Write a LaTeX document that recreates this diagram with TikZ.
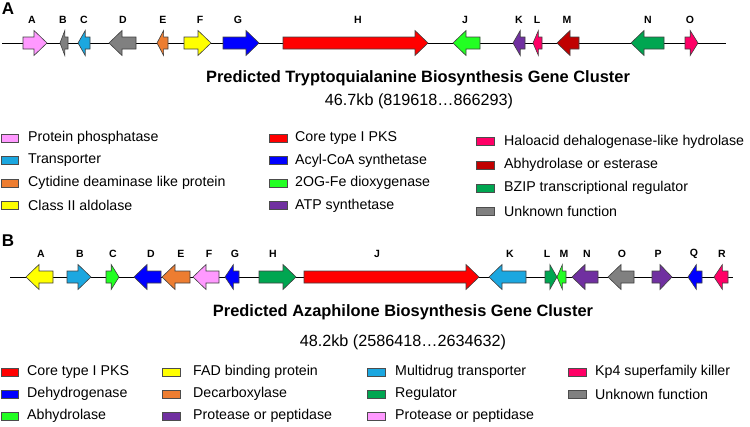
\documentclass[tikz,border=0pt]{standalone}
\usepackage{fontspec}
\setmainfont{Liberation Sans}
\definecolor{phos}{HTML}{FF99FF}
\definecolor{transp}{HTML}{1BA7E0}
\definecolor{deam}{HTML}{ED7D31}
\definecolor{aldo}{HTML}{FFFF00}
\definecolor{pks}{HTML}{FF0000}
\definecolor{acyl}{HTML}{0000FF}
\definecolor{diox}{HTML}{22FF22}
\definecolor{atps}{HTML}{7030A0}
\definecolor{halo}{HTML}{FF0066}
\definecolor{esta}{HTML}{C00000}
\definecolor{bzip}{HTML}{00A651}
\definecolor{unkn}{HTML}{808080}
\tikzset{
    genebox/.style={draw=black!75, line width=0.6pt, line join=miter},
    genelabel/.style={font=\fontsize{10.5}{10.5}\selectfont\bfseries},
    swatch/.style={draw=black!70, line width=0.6pt},
    legtext/.style={anchor=west, inner sep=0pt, font=\fontsize{14.2}{14.2}\selectfont},
    panel/.style={font=\fontsize{17}{17}\selectfont\bfseries},
    title/.style={font=\fontsize{16.4}{16.4}\selectfont\bfseries},
    subtitle/.style={font=\fontsize{16.2}{16.2}\selectfont}
}
\newcommand{\genearrow}[5]{%
    \pgfmathsetmacro{\hl}{min(13,0.6*(#2-#1))}%
    \pgfmathsetmacro{\tl}{#4>0 ? #1 : #2}%
    \pgfmathsetmacro{\tp}{#4>0 ? #2 : #1}%
    \pgfmathsetmacro{\hb}{#4>0 ? #2-\hl : #1+\hl}%
    \draw[genebox, fill=#5] (\tl,#3-6) -- (\hb,#3-6) -- (\hb,#3-12.5) -- (\tp,#3)
        -- (\hb,#3+12.5) -- (\hb,#3+6) -- (\tl,#3+6) -- cycle;
}

\begin{document}
\begin{tikzpicture}[x=1pt, y=-1pt]
        \useasboundingbox (0,0) rectangle (750,426);

        \node[panel] (panelA) at (8,9) {A};
        \draw[line width=0.9pt] (2,43) -- (726,43);
        \foreach \xa/\xb/\d/\c/\t/\lx in {23/47/1/phos/A/32, 60/68/-1/unkn/B/63, 78/90/-1/transp/C/84,
            109/136/-1/unkn/D/123, 157/168/-1/deam/E/163, 184/211/1/aldo/F/200, 223/259/1/acyl/G/238,
            283/428/1/pks/H/358, 453/480/-1/diox/J/465, 513/525/-1/atps/K/519, 533/542/-1/halo/L/537,
            557/579/-1/esta/M/567, 631/664/-1/bzip/N/648, 685/698/1/halo/O/690} {
            \genearrow{\xa}{\xb}{43}{\d}{\c}
            \node[genelabel] (geneA-\t) at (\lx,20) {\t};
        }
        \node[title] (titleA) at (418,78) {Predicted Tryptoquialanine Biosynthesis Gene Cluster};
        \node[subtitle] (sizeA) at (419,101) {46.7kb (819618…866293)};

        \foreach \c/\t [count=\i] in {phos/Protein phosphatase, transp/Transporter,
            deam/Cytidine deaminase like protein, aldo/Class II aldolase} {
            \draw[swatch, fill=\c] (1,138+22.5*\i-22.5-4) rectangle (18,138+22.5*\i-22.5+4);
            \node[legtext] (legA1-\i) at (28,138+22.5*\i-22.5) {\t};
        }
        \foreach \c/\t [count=\i] in {pks/Core type I PKS, acyl/Acyl-CoA synthetase,
            diox/2OG-Fe dioxygenase, atps/ATP synthetase} {
            \draw[swatch, fill=\c] (269,138+22.5*\i-22.5-4) rectangle (287,138+22.5*\i-22.5+4);
            \node[legtext] (legA2-\i) at (295,138+22.5*\i-22.5) {\t};
        }
        \foreach \c/\t [count=\i] in {halo/Haloacid dehalogenase-like hydrolase, esta/Abhydrolase or esterase,
            bzip/BZIP transcriptional regulator, unkn/Unknown function} {
            \draw[swatch, fill=\c] (476,141.5+23.3*\i-23.3-4) rectangle (494,141.5+23.3*\i-23.3+4);
            \node[legtext] (legA3-\i) at (504,141.5+23.3*\i-23.3) {\t};
        }

        \node[panel] (panelB) at (8,241) {B};
        \draw[line width=0.9pt] (10,277) -- (733,277);
        \foreach \xa/\xb/\d/\c/\t/\lx in {26/53/-1/aldo/A/41, 67/91/1/transp/B/80, 106/119/1/diox/C/113,
            134/161/-1/acyl/D/151, 162/190/-1/deam/E/181, 193/219/-1/phos/F/209, 225/239/-1/acyl/G/235,
            259/296/1/bzip/H/273, 304/479/1/pks/J/377, 489/526/-1/transp/K/510, 545/557/1/bzip/L/547,
            557/566/-1/diox/M/564, 572/598/-1/atps/N/587, 608/634/-1/unkn/O/622, 652/672/1/atps/P/658,
            688/702/-1/acyl/Q/694, 714/728/-1/halo/R/722} {
            \genearrow{\xa}{\xb}{277}{\d}{\c}
            \node[genelabel] (geneB-\t) at (\lx,254) {\t};
        }
        \node[title] (titleB) at (403,312) {Predicted Azaphilone Biosynthesis Gene Cluster};
        \node[subtitle] (sizeB) at (403,342) {48.2kb (2586418…2634632)};

        \foreach \c/\t [count=\i] in {pks/Core type I PKS, acyl/Dehydrogenase, diox/Abhydrolase} {
            \draw[swatch, fill=\c] (1,372+22*\i-22-4) rectangle (18,372+22*\i-22+4);
            \node[legtext] (legB1-\i) at (27,372+22*\i-22) {\t};
        }
        \foreach \c/\t [count=\i] in {aldo/FAD binding protein, deam/Decarboxylase, atps/Protease or peptidase} {
            \draw[swatch, fill=\c] (162,372+22*\i-22-4) rectangle (180,372+22*\i-22+4);
            \node[legtext] (legB2-\i) at (193,372+22*\i-22) {\t};
        }
        \foreach \c/\t [count=\i] in {transp/Multidrug transporter, bzip/Regulator, phos/Protease or peptidase} {
            \draw[swatch, fill=\c] (367,372+22*\i-22-4) rectangle (385,372+22*\i-22+4);
            \node[legtext] (legB3-\i) at (395,372+22*\i-22) {\t};
        }
        \foreach \c/\t [count=\i] in {halo/Kp4 superfamily killer, unkn/Unknown function} {
            \draw[swatch, fill=\c] (568,372+22*\i-22-4) rectangle (586,372+22*\i-22+4);
            \node[legtext] (legB4-\i) at (595,372+22*\i-22) {\t};
        }
    \end{tikzpicture}
\end{document}
